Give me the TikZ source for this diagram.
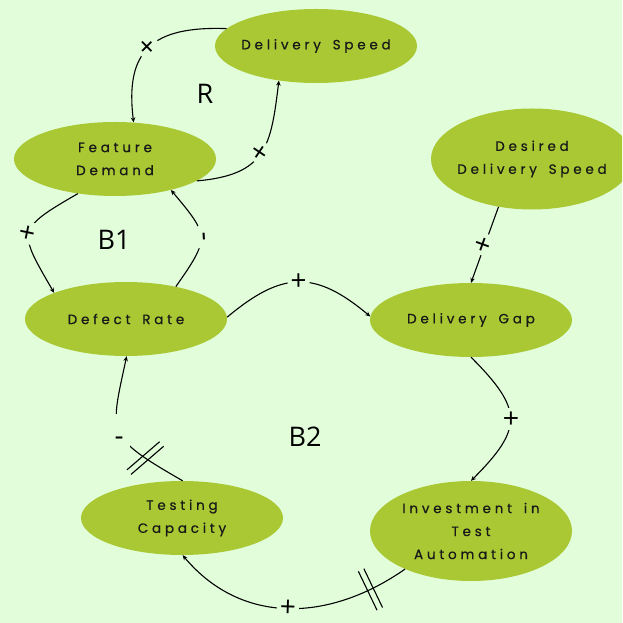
\documentclass[tikz,border=0pt]{standalone}
\usepackage{fontspec}
\setmainfont{Open Sans}
\newfontfamily\varfont[LetterSpace=28,WordSpace=1.6,FakeBold=0.6]{Poppins}
\usetikzlibrary{shapes.geometric,arrows.meta}
\definecolor{paper}{HTML}{E1FDDA}
\definecolor{leaf}{HTML}{AAC833}

\begin{document}
\begin{tikzpicture}[x=1pt,y=1pt,
  var/.style={ellipse, fill=leaf, inner xsep=-60pt, inner ysep=-25pt,
    minimum width=202pt, minimum height=74pt, align=center, text=black!90,
    font=\varfont\fontsize{13.5}{23}\selectfont},
  link/.style={line width=1.1pt, -{Stealth[length=5pt,width=4.5pt]}},
  sign/.style={fill=paper, inner sep=3pt, minimum width=22pt,
    font=\fontsize{28}{28}\selectfont},
  lowdash/.style={text height=29pt, text depth=0pt, inner ysep=2pt},
  delay/.style={inner sep=0pt, minimum width=5pt, minimum height=42pt},
  loopname/.style={font=\fontsize{27}{27}\selectfont}]

% canvas
\useasboundingbox (0,0) rectangle (622,623);
\fill[paper] (0,0) rectangle (622,623);
\clip (0,0) rectangle (622,623);

% variables
\node[var] (ds) at (316,577) {Delivery Speed};
\node[var] (fd) at (115,464) {Feature\\Demand};
\node[var, minimum height=101pt] (dds) at (532,464) {Desired\\Delivery Speed};
\node[var] (dr) at (126,304) {Defect Rate};
\node[var] (dg) at (471,303) {Delivery Gap};
\node[var] (tc) at (182,105) {Testing\\Capacity};
\node[var, minimum height=100pt] (ia) at (471,92) {Investment in\\Test\\Automation};

% loop names
\node[loopname] (R) at (205,529) {R};
\node[loopname] (B1) at (114,383) {B1};
\node[loopname] (B2) at (305,186) {B2};

% causal links
\draw[link] (ds.169) .. controls +(178:75) and +(97:72) .. (fd.63)
  node[sign, sloped, pos=0.5] {+};
\draw[link] (fd.345) .. controls +(5:70) and +(263:66) .. (ds.223)
  node[sign, sloped, pos=0.5] {+};
\draw[link] (fd.223) .. controls +(210:72) and +(120:72) .. (dr.160)
  node[sign, sloped, pos=0.5] {+};
\draw[link] (dr.33) .. controls +(55:60) and +(310:60) .. (fd.331)
  node[sign, sloped, pos=0.5] {-};
\draw[link] (dr.1) .. controls +(40:72) and +(140:72) .. (dg.178)
  node[sign, sloped, pos=0.5] {+};
\draw[link] (dds.235) -- (dg.90)
  node[sign, sloped, pos=0.5] {+};
\draw[link] (dg.270) .. controls +(315:74) and +(45:74) .. (ia.90)
  node[sign, sloped, pos=0.5] {+};
\draw[link] (ia.210) .. controls +(215:92) and +(310:92) .. (tc.271)
  node[delay, sloped, pos=0.15] (dm1) {}
  node[sign, sloped, inner sep=1pt, pos=0.5] {+};
\draw[link] (tc.89) .. controls +(150:90) and +(258:80) .. (dr.271)
  node[delay, sloped, rotate=-15, pos=0.2] (dm2) {}
  node[sign, lowdash, pos=0.5] {-};

% delay marks
\draw[line width=1.1pt] (dm1.north west) -- (dm1.south west)
  (dm1.north east) -- (dm1.south east);
\draw[line width=1.1pt] (dm2.north west) -- (dm2.south west)
  (dm2.north east) -- (dm2.south east);
\end{tikzpicture}
\end{document}
